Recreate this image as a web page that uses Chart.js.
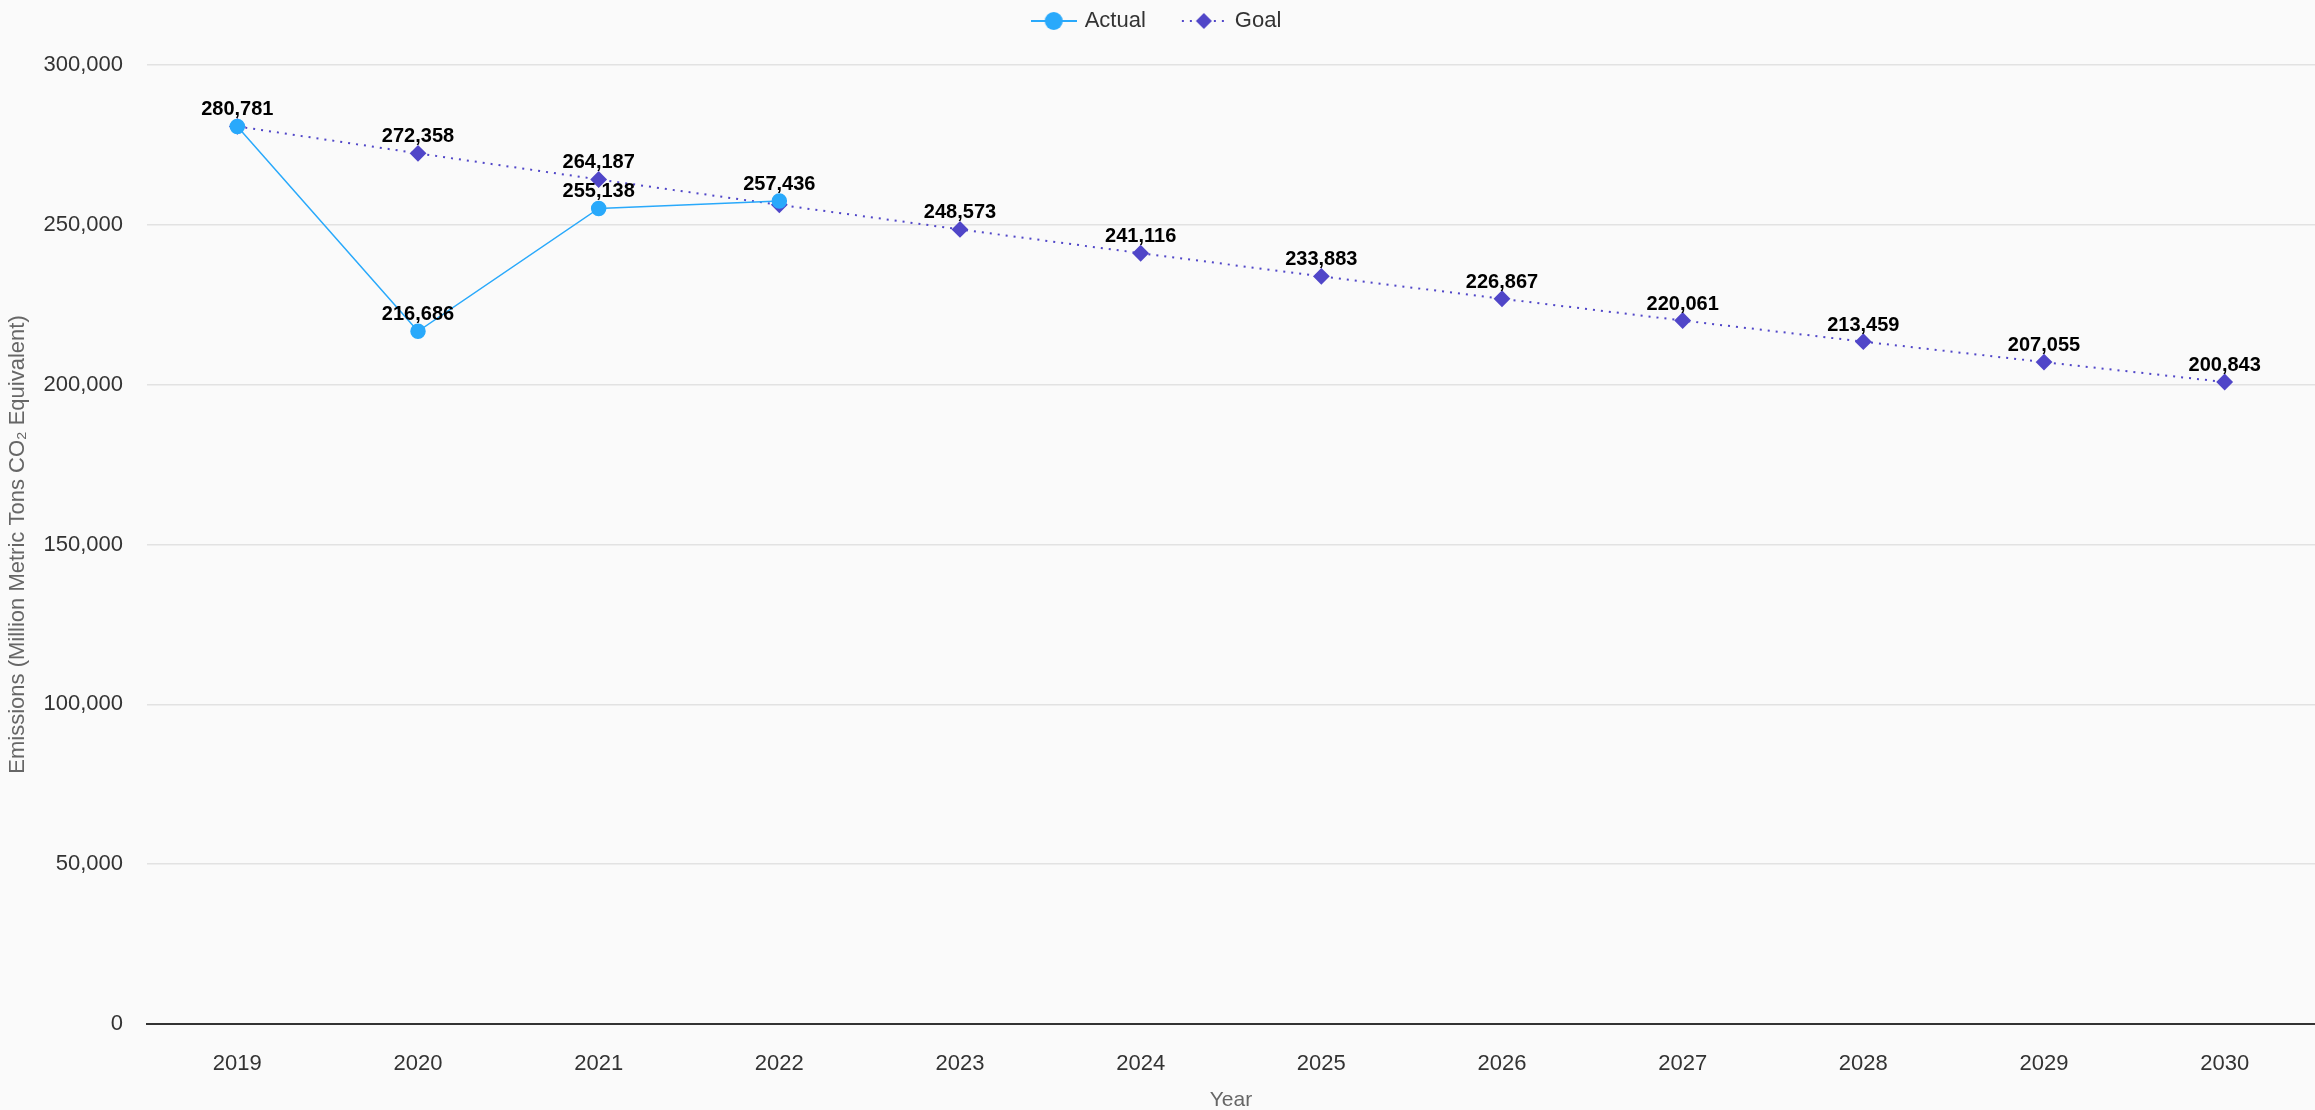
<!DOCTYPE html>
<html>
<head>
<meta charset="utf-8">
<title>Emissions: Actual vs Goal</title>
<script src="https://cdn.jsdelivr.net/npm/chart.js@4.4.1/dist/chart.umd.min.js"></script>
<style>
  html, body { margin: 0; padding: 0; background: #fafafa; }
  #wrap { position: relative; width: 2315px; height: 1110px; }
</style>
</head>
<body>
<div id="wrap"><canvas id="emissionsChart"></canvas></div>
<script>
const years = ['2019', '2020', '2021', '2022', '2023', '2024', '2025', '2026', '2027', '2028', '2029', '2030'];
const actualValues = [280781, 216686, 255138, 257436, null, null, null, null, null, null, null, null];
const goalValues = [280781, 272358, 264187, 256261, 248573, 241116, 233883, 226867, 220061, 213459, 207055, 200843];
const yTicks = [0, 50000, 100000, 150000, 200000, 250000, 300000];

const actualColor = '#29a9fb';
const goalColor = '#5046c8';
const fontFamily = '"Liberation Sans", Arial, Helvetica, sans-serif';

// little line+marker icons for the legend
function makeIcon(kind) {
  const c = document.createElement('canvas');
  c.width = 46;
  c.height = 20;
  const g = c.getContext('2d');
  g.lineWidth = 2;
  if (kind === 'actual') {
    g.strokeStyle = actualColor;
    g.beginPath(); g.moveTo(0, 10); g.lineTo(46, 10); g.stroke();
    g.fillStyle = actualColor;
    g.beginPath(); g.arc(23, 10, 9, 0, Math.PI * 2); g.fill();
  } else {
    g.strokeStyle = goalColor;
    g.setLineDash([2, 6]);
    g.beginPath(); g.moveTo(1, 10); g.lineTo(46, 10); g.stroke();
    g.fillStyle = goalColor;
    g.beginPath();
    g.moveTo(23, 2); g.lineTo(31, 10); g.lineTo(23, 18); g.lineTo(15, 10);
    g.closePath(); g.fill();
  }
  return c;
}
const legendIcons = [makeIcon('actual'), makeIcon('goal')];

// value labels above the points, skipping any that would overlap one already drawn
const valueLabels = {
  id: 'valueLabels',
  afterDatasetsDraw(chart) {
    const ctx = chart.ctx;
    const boxes = [];
    ctx.save();
    ctx.font = 'bold 20px ' + fontFamily;
    ctx.fillStyle = '#000';
    ctx.textAlign = 'center';
    ctx.textBaseline = 'alphabetic';
    chart.data.datasets.forEach((ds, di) => {
      const meta = chart.getDatasetMeta(di);
      meta.data.forEach((pt, i) => {
        const v = ds.data[i];
        if (v === null || v === undefined) return;
        const text = v.toLocaleString('en-US');
        const w = ctx.measureText(text).width;
        const baseY = pt.y - 11;
        const box = { l: pt.x - w / 2, r: pt.x + w / 2, t: baseY - 16, b: baseY + 2 };
        const hit = boxes.some(b => box.l < b.r && box.r > b.l && box.t < b.b && box.b > b.t);
        if (hit) return;
        boxes.push(box);
        ctx.fillText(text, pt.x, baseY);
      });
    });
    ctx.restore();
  }
};

// fixed legend height so the plot starts where the original one does
const legendHeight = {
  id: 'legendHeight',
  beforeInit(chart) {
    const fit = chart.legend.fit;
    chart.legend.fit = function () {
      fit.call(this);
      this.height = 93;
    };
  }
};

new Chart(document.getElementById('emissionsChart'), {
  type: 'line',
  data: {
    labels: years,
    datasets: [{
      label: 'Actual',
      data: actualValues,
      borderColor: actualColor,
      backgroundColor: actualColor,
      borderWidth: 1.5,
      pointStyle: 'circle',
      pointRadius: 7,
      pointHoverRadius: 8,
      spanGaps: false,
      tension: 0
    }, {
      label: 'Goal',
      data: goalValues,
      borderColor: goalColor,
      backgroundColor: goalColor,
      borderWidth: 2,
      borderDash: [2, 6],
      pointStyle: 'rectRot',
      pointRadius: 7,
      pointHoverRadius: 8,
      tension: 0
    }]
  },
  options: {
    responsive: true,
    maintainAspectRatio: false,
    animation: false,
    layout: { autoPadding: false, padding: { top: -28, right: 0, bottom: 0, left: 0 } },
    plugins: {
      legend: {
        position: 'top',
        labels: {
          usePointStyle: true,
          pointStyleWidth: 40,
          color: '#333',
          font: { family: fontFamily, size: 22 },
          padding: 38,
          generateLabels(chart) {
            const items = Chart.defaults.plugins.legend.labels.generateLabels(chart);
            items.forEach((it, i) => { it.pointStyle = legendIcons[i]; });
            return items;
          }
        }
      },
      tooltip: { mode: 'index', intersect: false }
    },
    scales: {
      x: {
        offset: true,
        grid: { display: false, drawTicks: false },
        border: { display: true, color: '#333', width: 2 },
        ticks: { color: '#333', font: { family: fontFamily, size: 22 }, padding: 27, maxRotation: 0 },
        title: { display: true, text: 'Year', color: '#666', font: { family: fontFamily, size: 21 }, padding: { top: 6, bottom: -3 } },
        afterFit(scale) {
          scale.height = 86;
          scale.paddingLeft = 0;
          scale.paddingRight = 0;
        }
      },
      y: {
        min: 0,
        max: 300000,
        afterBuildTicks(scale) { scale.ticks = yTicks.map(v => ({ value: v })); },
        grid: { color: '#e2e2e2', lineWidth: 1.5, drawTicks: false },
        border: { display: false },
        ticks: {
          color: '#333',
          font: { family: fontFamily, size: 22 },
          padding: 24,
          callback: v => v.toLocaleString('en-US')
        },
        title: {
          display: true,
          text: 'Emissions (Million Metric Tons CO₂ Equivalent)',
          color: '#666',
          font: { family: fontFamily, size: 22 },
          padding: { top: 5, bottom: 12 }
        },
        afterFit(scale) {
          scale.width = 147;
          scale.paddingTop = 0;
          scale.paddingBottom = 0;
        }
      }
    }
  },
  plugins: [valueLabels, legendHeight]
});
</script>
</body>
</html>
